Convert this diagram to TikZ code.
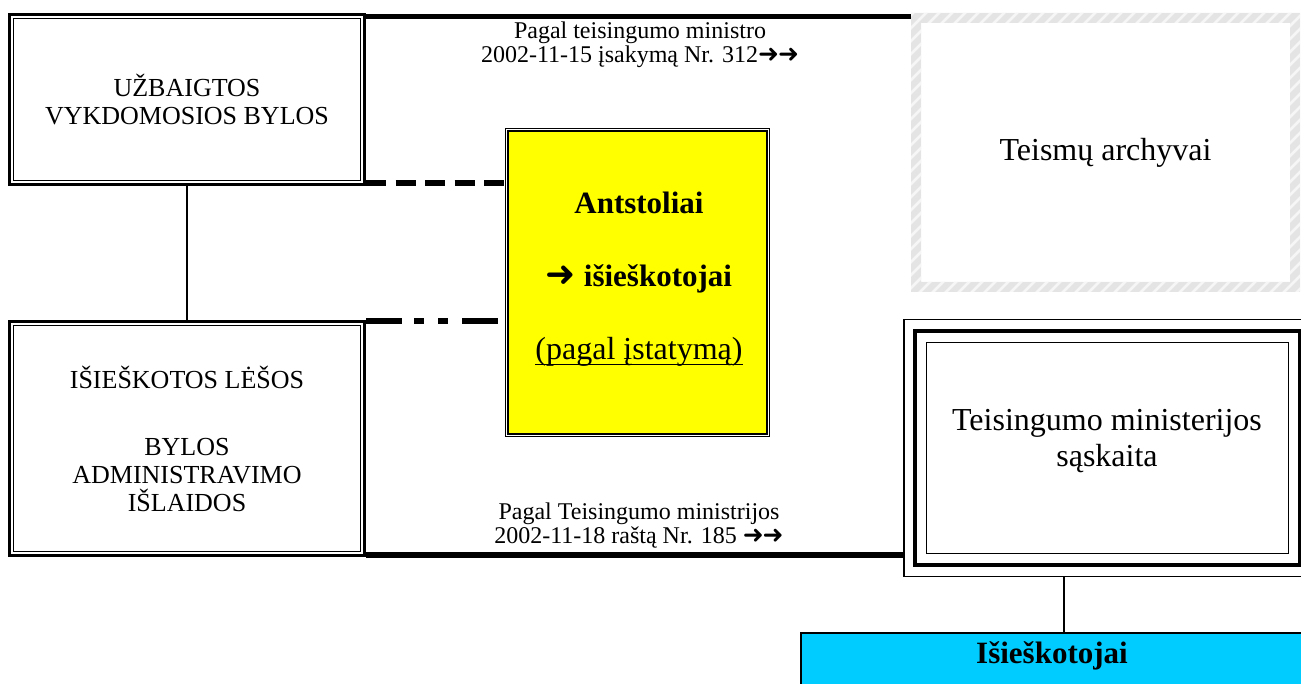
\documentclass[tikz,border=0pt]{standalone}
\usepackage{fontspec}
\setmainfont{Liberation Serif}
\newfontfamily\arr{DejaVu Sans}
\usetikzlibrary{calc}
\definecolor{hatchgray}{HTML}{E4E4E4}
\definecolor{hatchlight}{HTML}{F6F6F6}
\definecolor{cyanbox}{HTML}{00CCFF}
\definecolor{yellowbox}{HTML}{FFFF00}
\newcommand\fsz[2]{\fontsize{#1pt}{#2pt}\selectfont}
\newcommand\myul[1]{\setbox0\hbox{#1}\rlap{\rule[-5.5pt]{\wd0}{1.3pt}}\box0}
\newcommand\arrs{{\arr\fsz{25}{24}➜\kern-1pt➜}}
\begin{document}
\begin{tikzpicture}[x=1pt,y=-1pt,
  every node/.style={inner sep=0pt, outer sep=0pt},
  boxtext/.style={align=center, font=\fsz{26}{28}},
  labeltext/.style={align=center, font=\fsz{24}{24}},
  bigtext/.style={align=center, font=\fsz{32}{36}},
  thickline/.style={line width=5pt},
  thinconn/.style={line width=1.5pt}]
\useasboundingbox (0,0) rectangle (1301,684);
\clip (0,0) rectangle (1301,684);

% left boxes
\node[boxtext, minimum width=358pt, minimum height=173pt] (b1) at (187,99.5)
  {UŽBAIGTOS\\VYKDOMOSIOS BYLOS};
\node[boxtext, minimum width=358pt, minimum height=237pt] (b2) at (187,438.5)
  {IŠIEŠKOTOS LĖŠOS\\[39pt]BYLOS\\ADMINISTRAVIMO\\IŠLAIDOS};
\foreach \n in {b1,b2}{
  \draw[line width=3pt] ($(\n.north west)+(1.5,1.5)$) rectangle ($(\n.south east)-(1.5,1.5)$);
  \draw[line width=1pt] ($(\n.north west)+(5.5,5.5)$) rectangle ($(\n.south east)-(5.5,5.5)$);
}

% yellow box
\node[fill=yellowbox, minimum width=265pt, minimum height=309pt] (ye) at (637.5,282.5) {};
\draw[line width=4pt] ($(ye.north west)+(2,2)$) rectangle ($(ye.south east)-(2,2)$);
\draw[white, line width=0.8pt] ($(ye.north west)+(1.7,1.7)$) rectangle ($(ye.south east)-(1.7,1.7)$);
\node[align=center, font=\fsz{31}{73}\bfseries] (yt) at (639,279)
  {Antstoliai\\{\arr\fsz{36}{73}➜} išieškotojai\\{\mdseries\fsz{32}{73}\myul{(pagal įstatymą)}}};

% Teismų archyvai (hatched border)
\node[bigtext, minimum width=389pt, minimum height=279pt] (ta) at (1105.5,152.5) {Teismų archyvai};
\fill[hatchgray, even odd rule] (ta.north west) rectangle (ta.south east)
  ($(ta.north west)+(10,10)$) rectangle ($(ta.south east)-(10,10)$);
\begin{scope}[even odd rule]
  \clip (ta.north west) rectangle (ta.south east)
    ($(ta.north west)+(10,10)$) rectangle ($(ta.south east)-(10,10)$);
  \foreach \i in {600,613,...,1330}
    \draw[hatchlight, line width=2.5pt] (\i,300) -- (\i+300,0);
\end{scope}

% Teisingumo ministerijos sąskaita (triple border)
\node[minimum width=409pt, minimum height=258pt] (tm) at (1107.5,448) {};
\draw[line width=1.5pt] ($(tm.north west)+(0.75,0.75)$) rectangle ($(tm.south east)-(0.75,0.75)$);
\draw[line width=4.5pt] ($(tm.north west)+(12,12)$) rectangle ($(tm.south east)-(12,12)$);
\draw[line width=1.5pt] ($(tm.north west)+(23.5,23.5)$) rectangle ($(tm.south east)-(23.5,23.5)$);
\node[bigtext] (tmt) at (1107,441) {Teisingumo ministerijos\\sąskaita};

% cyan box
\node[draw, line width=2pt, fill=cyanbox, anchor=north west, minimum width=502pt,
  text height=30pt, text depth=37pt, font=\fsz{31}{36}\bfseries] (cy) at (801,633) {Išieškotojai};

% connectors
\draw[thinconn] (b1.south) -- (b2.north);
\draw[thickline] ([yshift=-4pt]b1.north east) -- ([yshift=-4pt]b1.north east -| ta.west);
\draw[line width=6pt, dash pattern=on 20pt off 9.5pt] ([yshift=3pt]b1.south east) -- ([yshift=3pt]b1.south east -| ye.west);
\draw[line width=6pt, dash pattern=on 36pt off 12pt on 10pt off 14pt on 10pt off 14pt, shorten >=6pt]
  ([yshift=-1pt]b2.north east) -- ([yshift=-1pt]b2.north east -| ye.west);
\draw[line width=6pt] ([yshift=2pt]b2.south east) -- ([yshift=2pt]b2.south east -| tm.west);
\draw[thinconn] ([xshift=-43.5pt]tm.south) -- ([xshift=-43.5pt]tm.south |- cy.north);

% connector labels
\node[labeltext] (lt) at (640,45) {Pagal teisingumo ministro\\2002-11-15 įsakymą Nr. 312\arrs};
\node[labeltext] (lb) at (639,526) {Pagal Teisingumo ministrijos\\2002-11-18 raštą Nr. 185 \arrs};
\end{tikzpicture}
\end{document}
